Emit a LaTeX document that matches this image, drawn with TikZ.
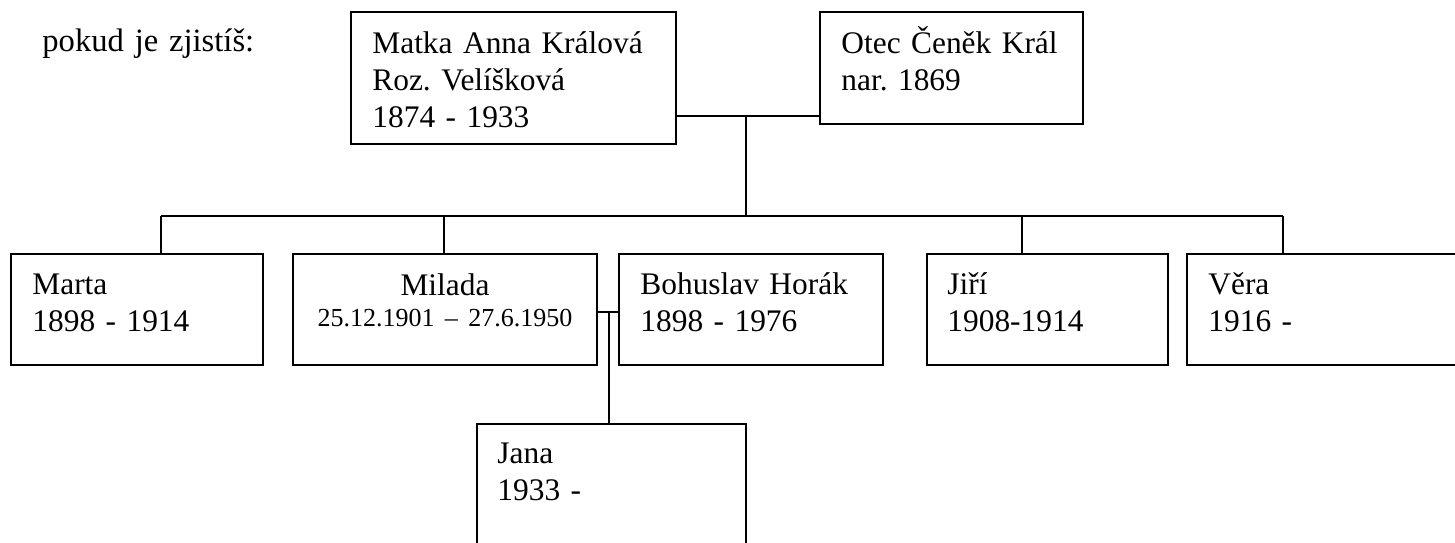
\documentclass[tikz,border=0pt]{standalone}
\usepackage{fontspec}
\setmainfont{Liberation Serif}
\frenchspacing
\usetikzlibrary{
  calc,
}

\tikzset{
  box/.style={draw, line width=0.8pt, anchor=north west, inner sep=0pt, outer sep=0pt},
  txt/.style={anchor=base west, inner sep=0pt, text width=150pt, align=left,
    font=\fontsize{15.7}{18.5}\selectfont},
  link/.style={line width=0.8pt},
}

\begin{document}
\begin{tikzpicture}[x=0.5pt, y=-0.5pt]
  \useasboundingbox (0,0) rectangle (1455,542);

  % boxes: name / left / top / width / height (pixels)
  \foreach \n/\x/\y/\w/\h in {mother/351/12/325/132, father/820/12/263/112,
      marta/11/254/252/111, milada/293/254/304/111, bohuslav/619/254/264/111,
      jiri/927/254/241/111, vera/1187/254/280/111, jana/477/424/269/140}{
      \node[box, minimum width=\w*0.5pt, minimum height=\h*0.5pt] (\n) at (\x,\y) {};
    }

  \node[txt, font=\fontsize{16.3}{18.5}\selectfont] (heading) at (42,51) {pokud je zjistíš:};

  \node[txt] (mother-t) at ([shift={(21,41)}]mother.north west)
    {Matka Anna Králová\\Roz. Velíšková\\1874 - 1933};
  \node[txt] (father-t) at ([shift={(21,41)}]father.north west)
    {Otec Čeněk Král\\nar. 1869};
  \node[txt] (marta-t) at ([shift={(21,40)}]marta.north west) {Marta\\1898 - 1914};
  \node[txt, anchor=base, align=center] (milada-t) at ([shift={(0,41)}]milada.north)
    {Milada\\[-3pt]{\fontsize{13}{15}\selectfont 25.12.1901 – 27.6.1950}};
  \node[txt] (bohuslav-t) at ([shift={(21,40)}]bohuslav.north west)
    {Bohuslav Horák\\1898 - 1976};
  \node[txt] (jiri-t) at ([shift={(20,40)}]jiri.north west) {Jiří\\1908-1914};
  \node[txt] (vera-t) at ([shift={(21,40)}]vera.north west) {Věra\\1916 -};
  \node[txt] (jana-t) at ([shift={(20,39)}]jana.north west) {Jana\\1933 -};

  % parents
  \coordinate (wed) at (746,116);
  \coordinate (bus) at (0,216);
  \draw[link] (mother.east |- wed) -- (father.west |- wed);
  \draw[link] (wed) -- (wed |- bus);

  % children
  \foreach \c/\d in {marta/150, milada/151, jiri/95, vera/96}{
      \coordinate (\c-top) at ([shift={(\d,0)}]\c.north west);
      \draw[link] (\c-top) -- (\c-top |- bus);
    }
  \draw[link] (marta-top |- bus) -- (vera-top |- bus);

  % Milada and Bohuslav
  \coordinate (mb) at (609,312);
  \draw[link] (milada.east |- mb) -- (bohuslav.west |- mb);
  \draw[link] (mb) -- (mb |- jana.north);
\end{tikzpicture}
\end{document}
